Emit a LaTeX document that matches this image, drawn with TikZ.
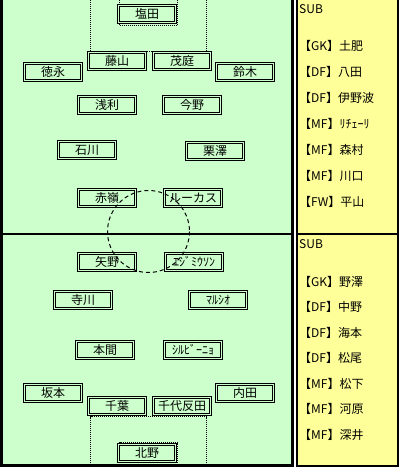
\documentclass[tikz,border=0pt]{standalone}
\usepackage{fontspec}
\setmainfont{Noto Sans CJK JP}
\definecolor{pitch}{HTML}{CCFFCC}
\definecolor{subbg}{HTML}{FFFF99}
\begin{document}
\begin{tikzpicture}[x=1pt,y=-1pt,
  player/.style={draw=black, fill=pitch, double=pitch, line width=1pt, double distance=1pt,
    minimum width=57pt, minimum height=17pt, inner sep=0pt, font=\fontsize{12}{14}\selectfont},
  subtext/.style={anchor=west, inner sep=0pt, font=\fontsize{12}{14}\selectfont},
  penalty/.style={line width=1pt, dash pattern=on 1pt off 1pt},
  centrecircle/.style={line width=1pt, dash pattern=on 4pt off 3pt},
  border/.style={line width=3pt}]
\useasboundingbox (0,0) rectangle (400,474);
% backgrounds
\fill[pitch] (0,0) rectangle (293,467);
\fill[subbg] (296,0) rectangle (399,467);
% penalty and goal areas
\draw[penalty] (90.5,0) -- (90.5,51.5) -- (206.5,51.5) -- (206.5,0);
\draw[penalty] (119.5,0) -- (119.5,25.5) -- (177.5,25.5) -- (177.5,0);
\draw[penalty] (90.5,467) -- (90.5,416.5) -- (206.5,416.5) -- (206.5,467);
\draw[penalty] (119.5,467) -- (119.5,442.5) -- (177.5,442.5) -- (177.5,467);
% top team
\node[player] (shioda)   at (147,14)  {塩田};
\node[player] (fujiyama) at (117,61)  {藤山};
\node[player] (moniwa)   at (182,61)  {茂庭};
\node[player] (tokunaga) at (53,72)   {徳永};
\node[player] (suzuki)   at (245,72)  {鈴木};
\node[player] (asari)    at (107,105) {浅利};
\node[player] (konno)    at (192,105) {今野};
\node[player] (ishikawa) at (87,150)  {石川};
\node[player] (kurisawa) at (215,151) {栗澤};
\node[player] (akamine)  at (107,198) {赤嶺};
\node[player] (lucas)    at (193,198) {ルーカス};
% bottom team
\node[player] (yano)       at (107,262) {矢野};
\node[player] (edmilson)   at (194,262) {ｴｼﾞﾐｳｿﾝ};
\node[player] (terakawa)   at (83,300)  {寺川};
\node[player] (marcio)     at (218,300) {ﾏﾙｼｵ};
\node[player] (honma)      at (105,350) {本間};
\node[player] (silvinho)   at (193,350) {ｼﾙﾋﾞｰﾆｮ};
\node[player] (sakamoto)   at (53,393)  {坂本};
\node[player] (uchida)     at (245,393) {内田};
\node[player] (chiba)      at (117,406) {千葉};
\node[player] (chiyotanda) at (182,406) {千代反田};
\node[player] (kitano)     at (147,453) {北野};
% centre circle
\draw[centrecircle] (148.5,231.5) circle[radius=41];
% borders
\draw[border] (1.5,-3) -- (1.5,465.5) -- (292.5,465.5) -- (292.5,-3);
\draw[line width=2pt] (0,234) -- (293,234);
\draw[line width=2pt] (297,-3) -- (297,466) -- (398,466) -- (398,-3);
\draw[line width=2pt] (296,234) -- (399,234);
% substitutes, top
\node[subtext] (subA)  at (299,9.5)   {SUB};
\node[subtext] (subA1) at (299,45.5)  {【GK】土肥};
\node[subtext] (subA2) at (299,71.5)  {【DF】八田};
\node[subtext] (subA3) at (299,97.5)  {【DF】伊野波};
\node[subtext] (subA4) at (299,123.5) {【MF】ﾘﾁｪｰﾘ};
\node[subtext] (subA5) at (299,149.5) {【MF】森村};
\node[subtext] (subA6) at (299,175.5) {【MF】川口};
\node[subtext] (subA7) at (299,201.5) {【FW】平山};
% substitutes, bottom
\node[subtext] (subB)  at (299,244.5) {SUB};
\node[subtext] (subB1) at (299,281.5) {【GK】野澤};
\node[subtext] (subB2) at (299,307)   {【DF】中野};
\node[subtext] (subB3) at (299,332.5) {【DF】海本};
\node[subtext] (subB4) at (299,358)   {【DF】松尾};
\node[subtext] (subB5) at (299,383.5) {【MF】松下};
\node[subtext] (subB6) at (299,409)   {【MF】河原};
\node[subtext] (subB7) at (299,434.5) {【MF】深井};
\end{tikzpicture}
\end{document}
